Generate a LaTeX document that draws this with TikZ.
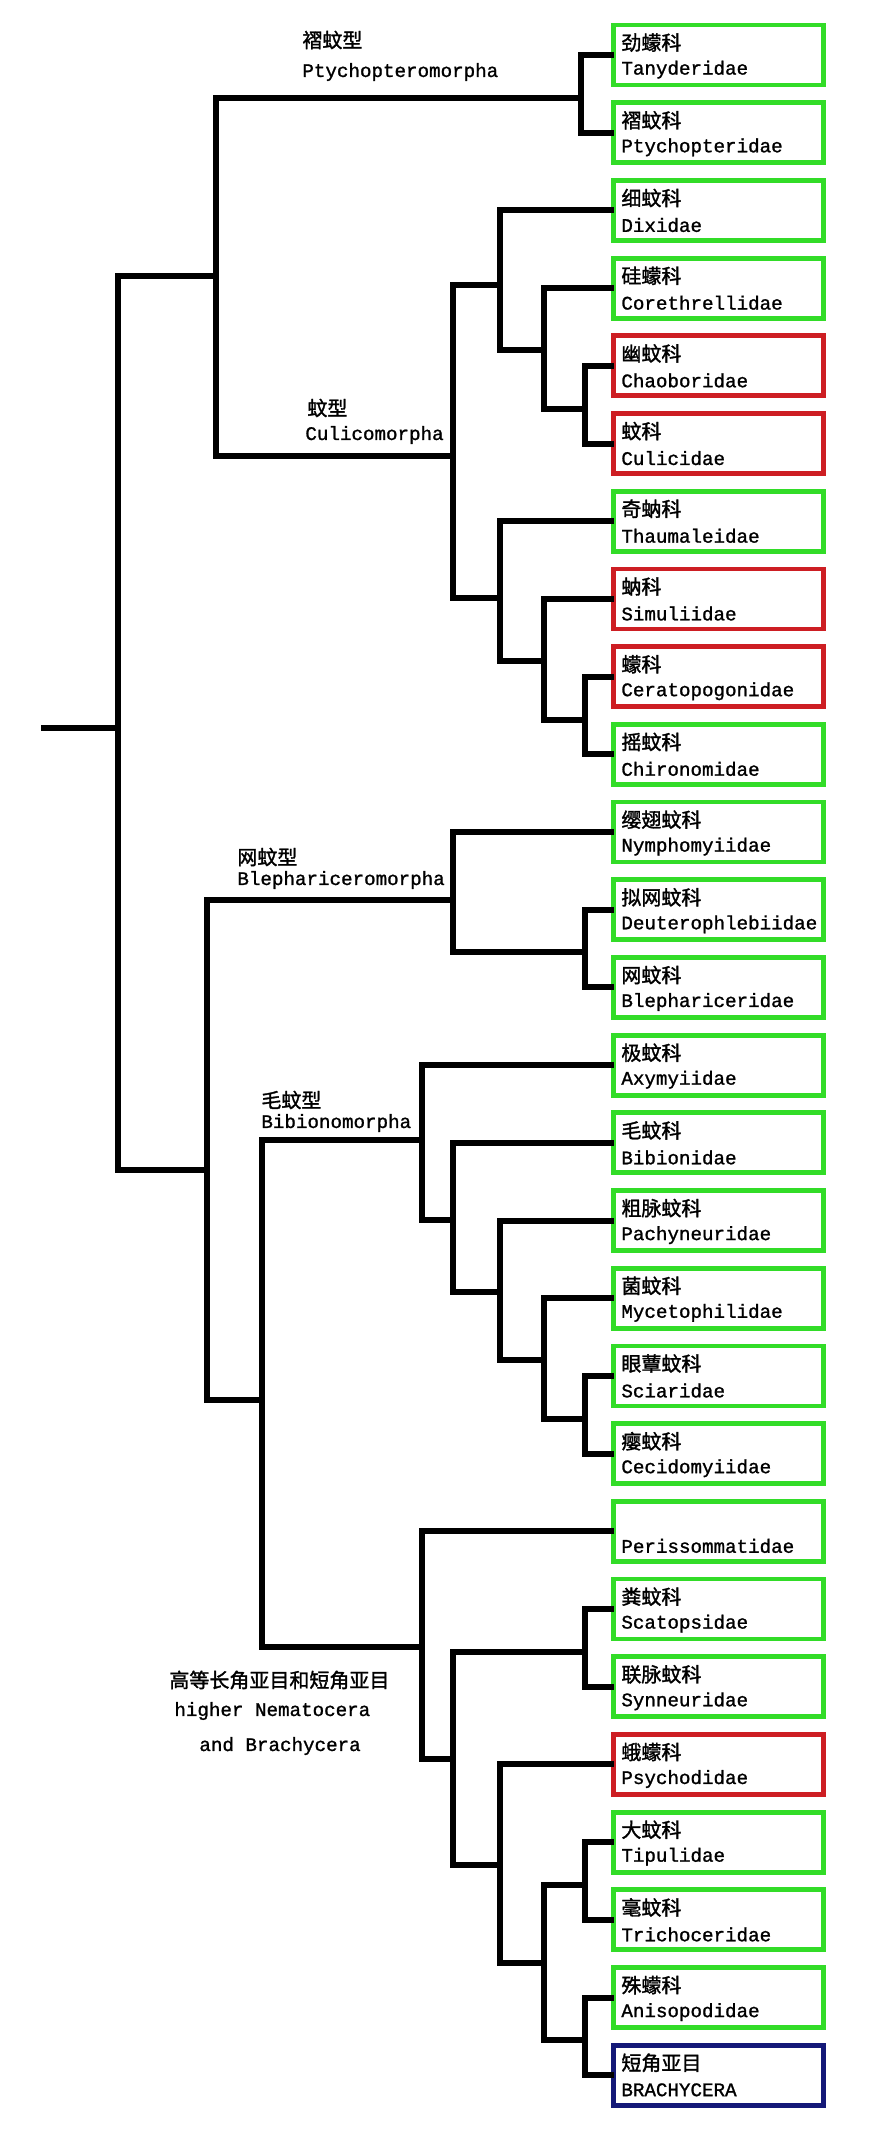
\documentclass[tikz,border=0pt]{standalone}
\usepackage{fontspec}
\newfontfamily\cjk[FakeBold=1.5]{Noto Sans CJK SC}
\newfontfamily\lat[FakeBold=1.2]{Liberation Mono}
\definecolor{bgreen}{RGB}{50,220,40}
\definecolor{bred}{RGB}{205,30,35}
\definecolor{bblue}{RGB}{20,25,120}
\begin{document}
\begin{tikzpicture}[x=0.5pt,y=-0.5pt,
  leafbox/.style={draw=#1,line width=2.4pt,minimum width=105pt,minimum height=30pt,inner sep=0pt,anchor=west},
  cn/.style={font=\cjk\fontsize{10}{12}\selectfont,anchor=west,inner sep=0pt},
  ln/.style={font=\lat\fontsize{9.6}{11}\selectfont,anchor=west,inner sep=0pt},
  br/.style={line width=3pt,line cap=rect}]
\useasboundingbox (0,0) rectangle (884,2132);
\foreach \i/\c/\t/\col in {
 0/劲蠓科/Tanyderidae/bgreen, 1/褶蚊科/Ptychopteridae/bgreen, 2/细蚊科/Dixidae/bgreen,
 3/硅蠓科/Corethrellidae/bgreen, 4/幽蚊科/Chaoboridae/bred, 5/蚊科/Culicidae/bred,
 6/奇蚋科/Thaumaleidae/bgreen, 7/蚋科/Simuliidae/bred, 8/蠓科/Ceratopogonidae/bred,
 9/摇蚊科/Chironomidae/bgreen, 10/缨翅蚊科/Nymphomyiidae/bgreen, 11/拟网蚊科/Deuterophlebiidae/bgreen,
 12/网蚊科/Blephariceridae/bgreen, 13/极蚊科/Axymyiidae/bgreen, 14/毛蚊科/Bibionidae/bgreen,
 15/粗脉蚊科/Pachyneuridae/bgreen, 16/菌蚊科/Mycetophilidae/bgreen, 17/眼蕈蚊科/Sciaridae/bgreen,
 18/瘿蚊科/Cecidomyiidae/bgreen, 19//Perissommatidae/bgreen, 20/粪蚊科/Scatopsidae/bgreen,
 21/联脉蚊科/Synneuridae/bgreen, 22/蛾蠓科/Psychodidae/bred, 23/大蚊科/Tipulidae/bgreen,
 24/毫蚊科/Trichoceridae/bgreen, 25/殊蠓科/Anisopodidae/bgreen, 26/短角亚目/BRACHYCERA/bblue}
{
 \node[leafbox=\col] (l\i) at (611,{55+77.7*\i}) {};
 \node[cn] (c\i) at ([xshift=5pt,yshift=-10pt]l\i.north west) {\c};
 \node[ln] (t\i) at ([xshift=5pt,yshift=-23.5pt]l\i.north west) {\t};
}
\coordinate (P01) at (581,98);
\coordinate (A) at (216,276);
\coordinate (n45) at (585,408.5);
\coordinate (n3) at (544,350);
\coordinate (n2) at (500,285);
\coordinate (n89) at (585,719.5);
\coordinate (n7) at (544,661);
\coordinate (n6) at (500,598);
\coordinate (Cu) at (453,456);
\coordinate (n1112) at (585,952);
\coordinate (Bl) at (453,900);
\coordinate (n1718) at (585,1419);
\coordinate (n16) at (544,1360);
\coordinate (n15) at (500,1292);
\coordinate (n14) at (453,1220);
\coordinate (Bi) at (422,1140);
\coordinate (n2021) at (585,1652);
\coordinate (n2324) at (585,1885);
\coordinate (n2526) at (585,2040);
\coordinate (n2326) at (544,1963);
\coordinate (n22) at (500,1865);
\coordinate (n20) at (453,1759);
\coordinate (Hi) at (422,1647);
\coordinate (C) at (262,1400);
\coordinate (B) at (207,1170);
\coordinate (rt) at (118,728);
\coordinate (r0) at (44,728);
\draw[br] (r0) -- (rt);
\draw[br] (rt) |- (A); \draw[br] (rt) |- (B);
\draw[br] (A) |- (P01); \draw[br] (A) |- (Cu);
\draw[br] (P01) |- (l0.west); \draw[br] (P01) |- (l1.west);
\draw[br] (Cu) |- (n2); \draw[br] (Cu) |- (n6);
\draw[br] (n2) |- (l2.west); \draw[br] (n2) |- (n3);
\draw[br] (n3) |- (l3.west); \draw[br] (n3) |- (n45);
\draw[br] (n45) |- (l4.west); \draw[br] (n45) |- (l5.west);
\draw[br] (n6) |- (l6.west); \draw[br] (n6) |- (n7);
\draw[br] (n7) |- (l7.west); \draw[br] (n7) |- (n89);
\draw[br] (n89) |- (l8.west); \draw[br] (n89) |- (l9.west);
\draw[br] (B) |- (Bl); \draw[br] (B) |- (C);
\draw[br] (Bl) |- (l10.west); \draw[br] (Bl) |- (n1112);
\draw[br] (n1112) |- (l11.west); \draw[br] (n1112) |- (l12.west);
\draw[br] (C) |- (Bi); \draw[br] (C) |- (Hi);
\draw[br] (Bi) |- (l13.west); \draw[br] (Bi) |- (n14);
\draw[br] (n14) |- (l14.west); \draw[br] (n14) |- (n15);
\draw[br] (n15) |- (l15.west); \draw[br] (n15) |- (n16);
\draw[br] (n16) |- (l16.west); \draw[br] (n16) |- (n1718);
\draw[br] (n1718) |- (l17.west); \draw[br] (n1718) |- (l18.west);
\draw[br] (Hi) |- (l19.west); \draw[br] (Hi) |- (n20);
\draw[br] (n20) |- (n2021); \draw[br] (n20) |- (n22);
\draw[br] (n2021) |- (l20.west); \draw[br] (n2021) |- (l21.west);
\draw[br] (n22) |- (l22.west); \draw[br] (n22) |- (n2326);
\draw[br] (n2326) |- (n2324); \draw[br] (n2326) |- (n2526);
\draw[br] (n2324) |- (l23.west); \draw[br] (n2324) |- (l24.west);
\draw[br] (n2526) |- (l25.west); \draw[br] (n2526) |- (l26.west);
\node[cn] (k1) at (302,40) {褶蚊型};
\node[ln] (k1e) at (302,72) {Ptychopteromorpha};
\node[cn] (k2) at (307,408) {蚊型};
\node[ln] (k2e) at (305,435) {Culicomorpha};
\node[cn] (k3) at (237,857) {网蚊型};
\node[ln] (k3e) at (237,880) {Blephariceromorpha};
\node[cn] (k4) at (261,1100) {毛蚊型};
\node[ln] (k4e) at (261,1123) {Bibionomorpha};
\node[cn] (k5) at (169,1680) {高等长角亚目和短角亚目};
\node[ln] (k5e) at (174,1711) {higher Nematocera};
\node[ln] (k5f) at (199,1746) {and Brachycera};
\end{tikzpicture}
\end{document}
